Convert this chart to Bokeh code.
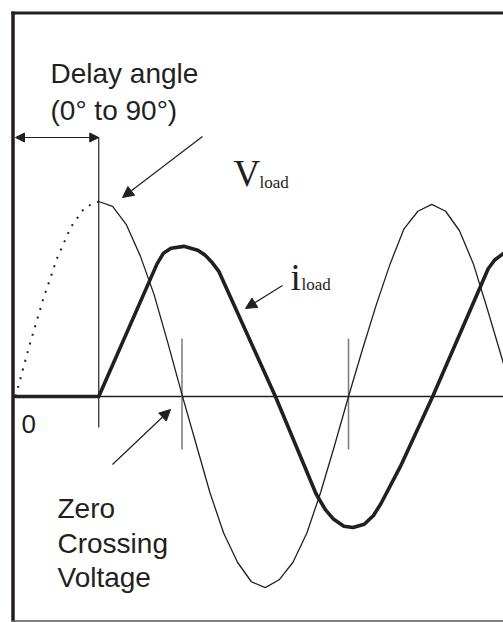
from bokeh.plotting import figure
from bokeh.models import Range1d, Arrow, NormalHead, ColumnDataSource
from bokeh.core.properties import value
from bokeh.embed import file_html
from bokeh.resources import INLINE

# ---------------- data ----------------
# angle in degrees, amplitude normalised to the voltage peak
V_DOT_DEG = [0, 15, 30, 45, 60, 75, 90]
V_DOT_VAL = [0.0, 0.26, 0.50, 0.71, 0.87, 0.97, 1.00]

V_DEG = [90, 105, 120, 135, 150, 165, 180, 195, 210, 225, 240, 255, 270, 285,
         300, 315, 330, 345, 360, 375, 390, 405, 420, 435, 450, 465, 480, 495,
         510, 525, 540]
V_VAL = [1.00, 0.975, 0.88, 0.72, 0.52, 0.27, 0.01, -0.24, -0.49, -0.70, -0.85,
         -0.95, -0.98, -0.94, -0.85, -0.70, -0.49, -0.25, 0.0, 0.24, 0.47, 0.68,
         0.86, 0.95, 0.985, 0.95, 0.85, 0.68, 0.45, 0.21, -0.04]

I_DEG = [0, 90, 153, 160, 168, 182, 197, 205, 212, 220, 281, 325, 335, 344,
         355, 365, 377, 387, 395, 416, 451, 511, 518, 528, 540]
I_VAL = [0.0, 0.0, 0.68, 0.735, 0.76, 0.77, 0.75, 0.725, 0.69, 0.64, 0.0, -0.50,
         -0.58, -0.63, -0.665, -0.672, -0.655, -0.61, -0.55, -0.36, 0.0, 0.655,
         0.70, 0.735, 0.76]

DELAY_DEG = 90
ZERO_CROSS_DEG = [180, 360]

# ---------------- layout helpers (page pixels -> data) ----------------
X0, SX = 15.0, 0.925      # px of 0 deg, px per degree
Y0, SY = 396.0, 195.0     # px of zero level, px per unit
ORG = 0                   # page offset of the canvas


def px(X):
    return (X - X0) / SX


def py(Y):
    return (Y0 - Y) / SY


W, H = 503, 622
p = figure(width=W, height=H, output_backend="svg", toolbar_location=None,
           x_range=Range1d(px(ORG), px(ORG + W)), y_range=Range1d(py(ORG + H), py(ORG)),
           x_axis_type=None, y_axis_type=None, min_border=0,
           background_fill_color="white", border_fill_color="white")
p.outline_line_color = None
p.grid.visible = False

INK = "#231f20"

# frame
p.line([px(11), px(510)], [py(12.5), py(12.5)], line_width=3, line_color=INK)
p.line([px(12.5), px(12.5)], [py(11), py(621)], line_width=3.5, line_color=INK)
p.line([px(11), px(510)], [py(620.5), py(620.5)], line_width=1.5, line_color="#555555")

# zero axis
p.line([px(13), px(510)], [0, 0], line_width=1.5, line_color=INK)

# delay marker and zero-crossing ticks
p.line([DELAY_DEG, DELAY_DEG], [py(137), py(427)], line_width=1.2, line_color=INK)
for zc in ZERO_CROSS_DEG:
    p.line([zc, zc], [py(338), py(449)], line_width=1.5, line_color="#7a7a7a")

# voltage
p.line(V_DOT_DEG, V_DOT_VAL, line_width=2, line_dash="2 7", line_color=INK)
p.line(V_DEG, V_VAL, line_width=1.3, line_color=INK, line_join="round")

# current
p.line(I_DEG, I_VAL, line_width=3.6, line_color=INK, line_join="round", line_cap="round")

# arrows
p.add_layout(Arrow(x_start=0, y_start=py(137), x_end=DELAY_DEG, y_end=py(137),
                   line_width=1.2, line_color=INK,
                   start=NormalHead(size=9, fill_color=INK, line_color=INK),
                   end=NormalHead(size=9, fill_color=INK, line_color=INK)))
for (xs, ys, xe, ye) in [(202, 136, 122, 197), (282, 285, 245, 308), (112, 464, 170, 409)]:
    p.add_layout(Arrow(x_start=px(xs), y_start=py(ys), x_end=px(xe), y_end=py(ye),
                       line_width=1.2, line_color=INK,
                       end=NormalHead(size=11, fill_color=INK, line_color=INK)))

# sans texts
sans = ColumnDataSource(dict(
    x=[px(50), px(50), px(57), px(57), px(57)],
    y=[py(73), py(110), py(508), py(543), py(577)],
    t=["Delay angle", "(0° to 90°)", "Zero", "Crossing", "Voltage"]))
p.text(x="x", y="y", text="t", source=sans, text_font=value("Liberation Sans"),
       text_font_size=value("28px"), text_color=INK, text_baseline="alphabetic",
       text_align="left")
p.text(x=[px(21)], y=[py(423)], text=["0"], text_font=value("Liberation Sans"),
       text_font_size=value("26px"), text_color=INK, text_baseline="alphabetic",
       text_align="left")

# serif symbol labels
p.text(x=[px(233), px(290)], y=[py(173), py(277)], text=["V", "i"],
       text_font=value("Liberation Serif"), text_font_size=value("37px"),
       text_color=INK, text_baseline="alphabetic", text_align="left")
p.text(x=[px(259), px(301)], y=[py(182), py(284)], text=["load", "load"],
       text_font=value("Liberation Serif"), text_font_size=value("17px"),
       text_color=INK, text_baseline="alphabetic", text_align="left")

open("out.html", "w").write(file_html(p, INLINE))
